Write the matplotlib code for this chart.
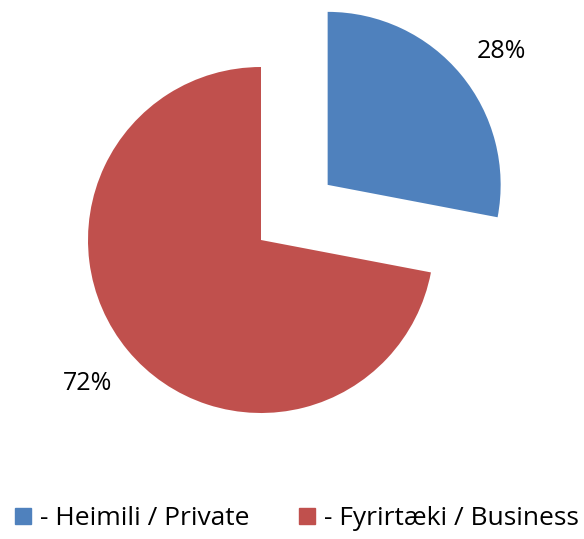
import matplotlib
matplotlib.use("Agg")
import matplotlib.pyplot as plt
from matplotlib.lines import Line2D

# Data
labels = ["- Heimili / Private", "- Fyrirtæki / Business"]
shares = [28, 72]
colors = ["#4F81BD", "#C0504D"]

plt.rcParams["font.family"] = ["Open Sans", "DejaVu Sans"]

fig = plt.figure(figsize=(5.84, 5.39), dpi=100)
ax = fig.add_axes([0, 0, 1, 1])

wedges, texts, pcts = ax.pie(shares, colors=colors, startangle=90, counterclock=False,
                             explode=[0.5, 0], autopct="%d%%", pctdistance=1.3,
                             textprops={"fontsize": 18, "color": "black"},
                             wedgeprops={"linewidth": 0})

# nudge the small slice's label down a bit, like the original
x, y = pcts[0].get_position()
pcts[0].set_position((x, y - 0.06))

# place the pie where it sits in the original
ax.set_aspect("auto")
ax.set_xlim(-261 / 173, (584 - 261) / 173)
ax.set_ylim(-(539 - 240) / 173, 240 / 173)
ax.axis("off")

handles = [Line2D([], [], marker="s", linestyle="none", markersize=11.5,
                  markerfacecolor=c, markeredgecolor=c) for c in colors]
fig.legend(handles, labels, loc="lower center", bbox_to_anchor=(0.505, -0.03),
           ncol=2, frameon=False, fontsize=19, handletextpad=0.2,
           columnspacing=1.7, handlelength=0.9)

plt.savefig("out.png", dpi=100)
